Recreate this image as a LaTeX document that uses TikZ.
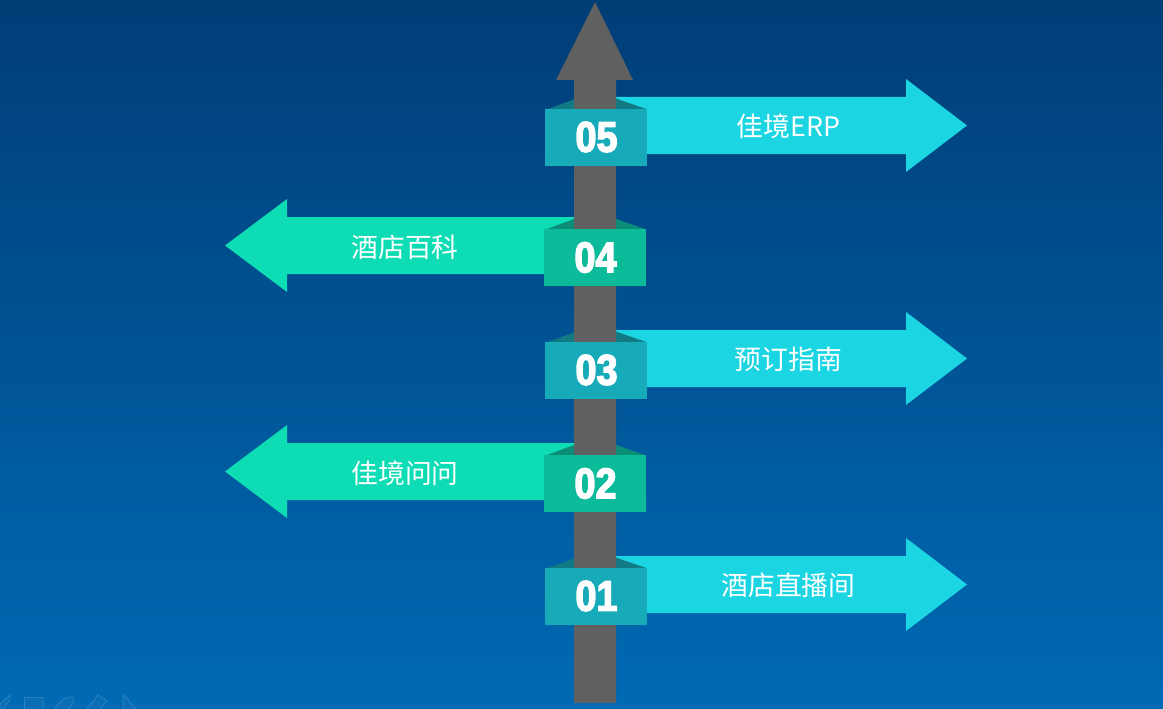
\documentclass[tikz,border=0pt]{standalone}
\usepackage{fontspec}
\newfontfamily\cjk{Noto Sans CJK SC}
\newfontfamily\numfont[FakeBold=3.2,FakeStretch=0.88]{Liberation Sans Bold}
\definecolor{bgtop}{HTML}{003D77}
\definecolor{bgbottom}{HTML}{006AB4}
\definecolor{pole}{HTML}{606060}
\definecolor{bluearrow}{HTML}{1BD5E3}
\definecolor{bluebox}{HTML}{17ABB9}
\definecolor{bluefold}{HTML}{127A85}
\definecolor{greenarrow}{HTML}{0DDCB4}
\definecolor{greenbox}{HTML}{0CBB9A}
\definecolor{greenfold}{HTML}{0C8D78}
\begin{document}
\begin{tikzpicture}[
	                 x = 1pt,
	                 y = -1pt,
	   arrowlabel/.style = {text=white, font=\cjk\fontsize{26.8}{30}\selectfont, inner sep=0pt},
	     numlabel/.style = {text=white, font=\numfont\fontsize{43}{45}\selectfont, inner sep=0pt},
	      toolicon/.style = {draw=white, draw opacity=0.13, fill=white, fill opacity=0.04, line width=1pt}
	                     ]
	\useasboundingbox (0,0) rectangle (1163,709);
	\shade[top color=bgtop, bottom color=bgbottom] (0,0) rectangle (1163,709);

	% toolbar left over at the bottom
	\draw[toolicon] (0,709) -- (0,704) -- (10,695) -- (10,700) -- (3,709);
	\draw[toolicon] (24,709) -- (24,697) -- (43,697) -- (43,709);
	\draw[toolicon] (55,709) .. controls (60,698) and (72,694) .. (74,699) .. controls (75,703) and (70,707) .. (68,709);
	\draw[toolicon] (87,709) -- (98,695) -- (107,701) -- (100,709);
	\draw[toolicon] (123,709) -- (123,694) -- (136,709);

	% left arrows
	\foreach \cy/\name/\lab in {245.5/four/酒店百科, 471.5/two/佳境问问}{
		\fill[greenarrow] (225,\cy) -- (287,\cy-46.5) -- (287,\cy-28.5) -- (574,\cy-28.5)
			-- (574,\cy+28.5) -- (287,\cy+28.5) -- (287,\cy+46.5) -- cycle;
		\node[arrowlabel] (label\name) at (405,\cy+1.5) {\lab};
		\fill[greenfold] (547,\cy-16.5) -- (574,\cy-26.5) -- (616,\cy-26.5) -- (645,\cy-16.5) -- cycle;
	}

	% right arrows
	\foreach \cy/\name/\lab in {125.5/five/佳境ERP, 358.5/three/预订指南, 584.5/one/酒店直播间}{
		\fill[bluearrow] (967,\cy) -- (906,\cy-46.5) -- (906,\cy-28.5) -- (616,\cy-28.5)
			-- (616,\cy+28.5) -- (906,\cy+28.5) -- (906,\cy+46.5) -- cycle;
		\node[arrowlabel] (label\name) at (788.5,\cy+1) {\lab};
		\fill[bluefold] (548,\cy-16.5) -- (574,\cy-26) -- (616,\cy-27) -- (646,\cy-16.5) -- cycle;
	}

	% pole
	\fill[pole] (595,2) -- (633,80) -- (616,80) -- (616,703) -- (574,703) -- (574,80) -- (556,80) -- cycle;

	% number boxes
	\foreach \cy/\name/\lab in {245.5/four/04, 471.5/two/02}{
		\fill[greenbox] (544,\cy-16.5) rectangle (646,\cy+40.5);
		\node[numlabel] (num\name) at (595.5,\cy+12) {\lab};
	}
	\foreach \cy/\name/\lab in {125.5/five/05, 358.5/three/03, 584.5/one/01}{
		\fill[bluebox] (545,\cy-16.5) rectangle (647,\cy+40.5);
		\node[numlabel] (num\name) at (596.5,\cy+11.5) {\lab};
	}
\end{tikzpicture}
\end{document}
